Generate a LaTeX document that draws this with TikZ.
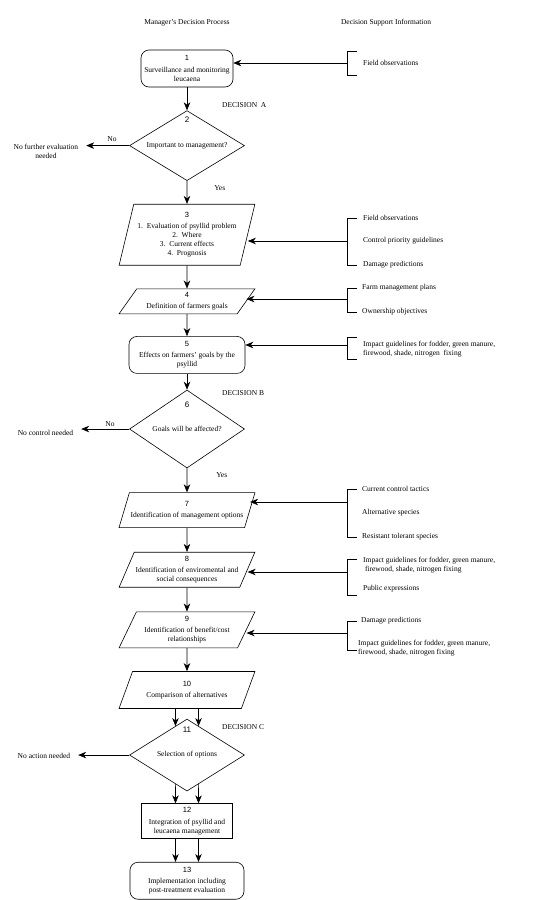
\documentclass[tikz,border=0pt]{standalone}
\usepackage{fontspec}
\setmainfont{Liberation Serif}
\setsansfont{Liberation Sans}
\usetikzlibrary{shapes.geometric,arrows.meta,positioning,calc}
\tikzstyle{proc} = [rectangle, rounded corners=8pt, draw, line width=0.6pt, align=center, inner sep=1pt, font=\fontsize{7.5}{9}\selectfont]
\tikzstyle{task} = [rectangle, draw, line width=0.6pt, align=center, inner sep=1pt, font=\fontsize{7.5}{9}\selectfont]
\tikzstyle{para} = [trapezium, trapezium left angle=63, trapezium right angle=117, trapezium stretches=true, draw, line width=0.6pt, align=center, inner sep=1pt, minimum width=136pt, font=\fontsize{7.5}{9}\selectfont]
\tikzstyle{decision} = [diamond, aspect=2.5, draw, line width=0.6pt, inner sep=0pt, minimum width=115pt, font=\fontsize{7.5}{9}\selectfont]
\tikzstyle{num} = [inner sep=0pt, font=\sffamily\fontsize{8}{9}\selectfont]
\tikzstyle{info} = [anchor=west, align=left, inner sep=0pt, font=\fontsize{7.5}{9}\selectfont]
\tikzstyle{outcome} = [align=center, inner sep=0pt, outer sep=8pt, font=\fontsize{7.5}{9}\selectfont]
\tikzstyle{note} = [inner sep=0pt, font=\fontsize{7.5}{9}\selectfont]
\tikzstyle{flow} = [draw, line width=0.6pt, >={Stealth[length=8pt,width=6.5pt,inset=2.5pt]}, ->]
\tikzstyle{brack} = [draw, line width=0.5pt]
\newcommand{\boxno}[1]{\textsf{#1}\\[2.5pt]}

\begin{document}
\begin{tikzpicture}[x=1pt,y=1pt]
\useasboundingbox (0,0) rectangle (540,-900);

% headings =============================
\node[note] (mgr) at (187,-23) {Manager's Decision Process};
\node[note] (dsi) at (386,-23) {Decision Support Information};

% manager's decision process =============================
\node[proc, minimum width=92pt, minimum height=37pt] (b1) at (187,-68.5) {\boxno{1}Surveillance and monitoring\\leucaena};
\node[decision, minimum height=70pt, below=23pt of b1] (d2) {Important to management?};
\node[num, below=6pt of d2.north] (n2) {2};
\node[para, trapezium left angle=73.6, trapezium right angle=106.4, minimum height=61pt, below=23pt of d2] (p3) {\boxno{3}1.\ \ Evaluation of psyllid problem\\2.\ \ Where\\3.\ \ Current effects\\4.\ \ Prognosis};
\node[para, trapezium left angle=54, trapezium right angle=126, minimum height=25pt, below=23pt of p3] (p4) {\boxno{4}Definition of farmers goals};
\node[proc, minimum width=116pt, minimum height=37pt, below=22pt of p4] (b5) {\boxno{5}Effects on farmers' goals by the\\psyllid};
\node[decision, minimum height=78pt, below=16pt of b5] (d6) {Goals will be affected?};
\node[num, below=12pt of d6.north] (n6) {6};
\node[para, minimum height=35pt, below=24pt of d6] (p7) {\boxno{7}Identification of management options};
\node[para, minimum height=35pt, below=24pt of p7] (p8) {\boxno{8}Identification of enviromental and\\social consequences};
\node[para, minimum height=36pt, below=24pt of p8] (p9) {\boxno{9}Identification of benefit/cost\\relationships};
\node[para, minimum height=37pt, below=23pt of p9] (p10) {\boxno{10}Comparison of alternatives};
\node[decision, minimum height=72pt, below=10pt of p10] (d11) {Selection of options};
\node[num, below=8pt of d11.north] (n11) {11};
\node[task, minimum width=91pt, minimum height=35pt, below=12pt of d11] (b12) {\boxno{12}Integration of psyllid and\\leucaena management};
\node[proc, minimum width=114pt, minimum height=37pt, below=23pt of b12] (b13) {\boxno{13}Implementation including\\post-treatment evaluation};

% decision labels and outcomes
\node[note, right=35pt of d2.north, yshift=5pt] (decA) {DECISION\ \ A};
\node[note, right=35pt of d6.north, yshift=-3pt] (decB) {DECISION B};
\node[note, right=35pt of d11.north, yshift=-8pt] (decC) {DECISION C};
\node[outcome, left=43pt of d2, yshift=-6pt] (o2) {No further evaluation\\needed};
\node[outcome, left=48pt of d6, yshift=-4pt] (o6) {No control needed};
\node[outcome, left=51pt of d11, yshift=-1pt] (o11) {No action needed};

% decision support information =============================
\node[info] (i1) at (363,-63) {Field observations};

\node[info] (i3a) at (363,-218) {Field observations};
\node[info] (i3b) at ([yshift=-23]i3a.west) {Control priority guidelines};
\node[info] (i3c) at ([yshift=-47]i3a.west) {Damage predictions};

\node[info] (i4a) at (362,-288) {Farm management plans};
\node[info] (i4b) at ([yshift=-24]i4a.west) {Ownership objectives};

\node[info] (i5) at (363,-349.5) {Impact guidelines for fodder, green manure,\\firewood, shade, nitrogen\ \ fixing};

\node[info] (i7a) at (362,-489) {Current control tactics};
\node[info] (i7b) at ([yshift=-24]i7a.west) {Alternative species};
\node[info] (i7c) at ([yshift=-48]i7a.west) {Resistant tolerant species};

\node[info] (i8a) at (363,-565) {Impact guidelines for fodder, green manure,\\\ firewood, shade, nitrogen fixing};
\node[info] (i8b) at ([yshift=-24]i8a.west) {Public expressions};

\node[info] (i9a) at (361,-621) {Damage predictions};
\node[info] (i9b) at (358,-648) {Impact guidelines for fodder, green manure,\\firewood, shade, nitrogen fixing};

% brackets
\draw[brack] ([shift={(-6,12)}]i1.west) -- ++(-10,0) |- ([shift={(-6,-12)}]i1.west);
\draw[brack] ([xshift=-6]i3a.west) -- ++(-10,0) |- ([xshift=-6]i3c.west);
\draw[brack] ([xshift=-5]i4a.west) -- ++(-10,0) |- ([xshift=-5]i4b.west);
\draw[brack] ([shift={(-6,12.5)}]i5.west) -- ++(-10,0) |- ([shift={(-6,-9.5)}]i5.west);
\draw[brack] ([xshift=-5]i7a.west) -- ++(-10,0) |- ([xshift=-5]i7c.west);
\draw[brack] ([shift={(-6,6)}]i8a.west) -- ++(-10,0) |- ([shift={(-6,-6)}]i8b.west);
\draw[brack] ([xshift=-4]i9a.west) -- ++(-10,0) |- ([shift={(-1,-2)}]i9b.west);

\coordinate (s1) at ([xshift=-16]i1.west);
\coordinate (s3) at ([xshift=-16]i3b.west);
\coordinate (s4) at ([shift={(-15,-11)}]i4a.west);
\coordinate (s5) at ([shift={(-16,4.5)}]i5.west);
\coordinate (s7) at ([shift={(-15,-13)}]i7a.west);
\coordinate (s8) at ([shift={(-16,-7)}]i8a.west);
\coordinate (s9) at ([shift={(-14,-12)}]i9a.west);

%edges
\path[flow] (b1) -- (d2);
\path[flow] (d2) -- node[note, pos=0.3, right=27pt] (y2) {Yes} (p3);
\path[flow] (p3) -- (p4);
\path[flow] (p4) -- (b5);
\path[flow] (b5) -- (d6);
\path[flow] (d6) -- node[note, pos=0.3, right=29pt] (y6) {Yes} (p7);
\path[flow] (p7) -- (p8);
\path[flow] (p8) -- (p9);
\path[flow] (p9) -- (p10);
\path[flow] ([xshift=-11.5]p10.south) -- ($(d11.north)!0.4!(d11.north west)$);
\path[flow] ([xshift=11.5]p10.south) -- ($(d11.north)!0.4!(d11.north east)$);
\path[flow] ($(d11.south)!0.4!(d11.south west)$) -- ([xshift=-11.5]b12.north);
\path[flow] ($(d11.south)!0.4!(d11.south east)$) -- ([xshift=11.5]b12.north);
\path[flow] ([xshift=-11.5]b12.south) -- ([xshift=-11.5]b13.north);
\path[flow] ([xshift=11.5]b12.south) -- ([xshift=11.5]b13.north);

\path[flow] (d2.west) -- node[note, pos=0.4, above=4pt] (no2) {No} (d2.west -| o2.east);
\path[flow] (d6.west) -- node[note, pos=0.4, above=2pt] (no6) {No} (d6.west -| o6.east);
\path[flow] (d11.west) -- (d11.west -| o11.east);

\path[flow] (s1) -- (s1 -| b1.east);
\path[flow] (s3) -- (s3 -| p3.east);
\path[flow] (s4) -- (s4 -| p4.east);
\path[flow] (s5) -- (s5 -| b5.east);
\path[flow] (s7) -- (s7 -| p7.east);
\path[flow] (s8) -- (s8 -| p8.east);
\path[flow] (s9) -- (s9 -| p9.east);

\end{tikzpicture}
\end{document}
